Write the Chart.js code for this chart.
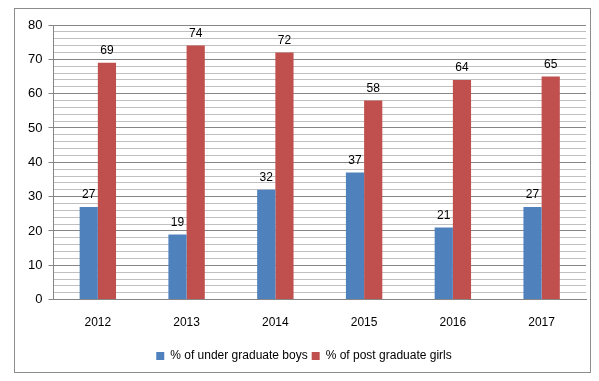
<!DOCTYPE html>
<html>
<head>
<meta charset="utf-8">
<script src="https://cdn.jsdelivr.net/npm/chart.js@4"></script>
<style>
  html, body { margin: 0; padding: 0; background: #fff; }
  #wrap { position: relative; width: 599px; height: 381px; }
  #frame { position: absolute; left: 14px; top: 8px; width: 575px; height: 363px; border: 1px solid #8c8c8c; }
  canvas { position: absolute; left: 0; top: 0; }
</style>
</head>
<body>
<div id="wrap">
  <div id="frame"></div>
  <canvas id="chart" width="599" height="381"></canvas>
</div>
<script>
const years = ['2012', '2013', '2014', '2015', '2016', '2017'];
const ugBoys = [27, 19, 32, 37, 21, 27];
const pgGirls = [69, 74, 72, 58, 64, 65];
const seriesNames = ['% of under graduate boys', '% of post graduate girls'];

const FONT = "'Liberation Sans', Arial, sans-serif";

// values above each bar
const valueLabels = {
    id: 'valueLabels',
    afterDatasetsDraw(chart) {
        const ctx = chart.ctx;
        ctx.save();
        ctx.font = '12px ' + FONT;
        ctx.fillStyle = '#000';
        ctx.textAlign = 'center';
        ctx.textBaseline = 'bottom';
        chart.data.datasets.forEach((ds, i) => {
            chart.getDatasetMeta(i).data.forEach((bar, j) => {
                ctx.fillText(ds.data[j], bar.x, bar.y - 6);
            });
        });
        ctx.restore();
    }
};

new Chart(document.getElementById('chart'), {
    type: 'bar',
    data: {
        labels: years,
        datasets: [
            { label: seriesNames[0], data: ugBoys, backgroundColor: '#4f81bd' },
            { label: seriesNames[1], data: pgGirls, backgroundColor: '#c0504d' }
        ]
    },
    options: {
        responsive: false,
        animation: false,
        layout: { padding: { left: 22, right: 13, top: 25, bottom: 9 } },
        datasets: { bar: { barPercentage: 1, categoryPercentage: 0.41 } },
        plugins: {
            legend: {
                position: 'bottom',
                labels: { boxWidth: 8, boxHeight: 8, padding: 4, color: '#000', font: { family: FONT, size: 12 } }
            },
            tooltip: { enabled: false }
        },
        scales: {
            x: {
                grid: { display: false, drawTicks: false },
                border: { color: '#868686' },
                ticks: { color: '#000', padding: 16, font: { family: FONT, size: 12 } }
            },
            y: {
                min: 0,
                max: 80,
                grid: {
                    color: c => c.tick.value % 10 === 0 ? '#868686' : '#c0c0c0',
                    tickColor: c => c.tick.value % 10 === 0 ? '#868686' : 'rgba(0,0,0,0)',
                    tickLength: 5
                },
                border: { color: '#868686' },
                ticks: {
                    stepSize: 2,
                    autoSkip: false,
                    color: '#000',
                    padding: 6,
                    font: { family: FONT, size: 13 },
                    callback: v => v % 10 === 0 ? v : ''
                }
            }
        }
    },
    plugins: [valueLabels]
});
</script>
</body>
</html>
